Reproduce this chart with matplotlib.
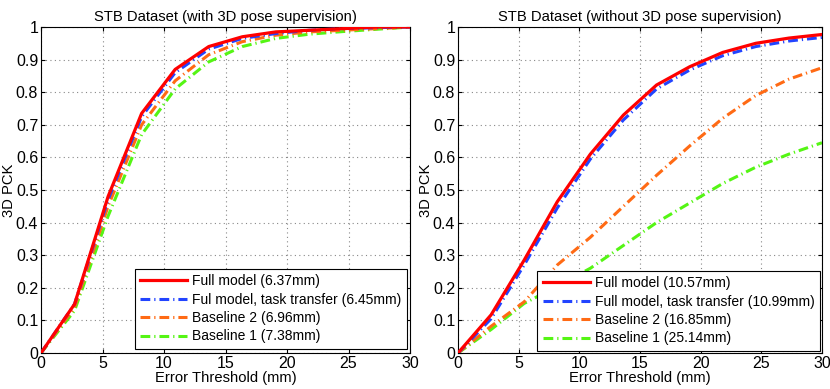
import numpy as np
import matplotlib
matplotlib.use("Agg")
import matplotlib.pyplot as plt

plt.rcParams['font.family'] = ['Liberation Sans', 'DejaVu Sans']

thresholds = np.linspace(0, 30, 12)

# Left: with 3D pose supervision
left_full = [0, 0.15, 0.48, 0.735, 0.87, 0.94, 0.97, 0.985, 0.99, 0.995, 1.0, 1.0]
left_transfer = [0, 0.15, 0.47, 0.725, 0.86, 0.932, 0.965, 0.98, 0.99, 0.995, 0.998, 1.0]
left_base2 = [0, 0.14, 0.45, 0.70, 0.835, 0.915, 0.955, 0.975, 0.985, 0.99, 0.995, 1.0]
left_base1 = [0, 0.13, 0.42, 0.67, 0.81, 0.893, 0.94, 0.965, 0.978, 0.986, 0.993, 1.0]
left_labels = ["Full model (6.37mm)", "Ful model, task transfer (6.45mm)",
               "Baseline 2 (6.96mm)", "Baseline 1 (7.38mm)"]

# Right: without 3D pose supervision
right_full = [0, 0.117, 0.285, 0.464, 0.61, 0.73, 0.822, 0.878, 0.922, 0.95, 0.966, 0.977]
right_transfer = [0, 0.105, 0.27, 0.445, 0.595, 0.715, 0.81, 0.868, 0.912, 0.94, 0.957, 0.968]
right_base2 = [0, 0.082, 0.157, 0.27, 0.355, 0.45, 0.545, 0.635, 0.72, 0.79, 0.84, 0.875]
right_base1 = [0, 0.072, 0.152, 0.205, 0.26, 0.33, 0.40, 0.46, 0.52, 0.57, 0.61, 0.645]
right_labels = ["Full model (10.57mm)", "Full model, task transfer (10.99mm)",
                "Baseline 2 (16.85mm)", "Baseline 1 (25.14mm)"]

titles = ["STB Dataset (with 3D pose supervision)", "STB Dataset (without 3D pose supervision)"]
colors = ["#ff0000", "#2244ff", "#ff6a14", "#55f514"]

fig = plt.figure(figsize=(8.3, 3.89), dpi=100)
ax1 = fig.add_axes([41/830, 1-353/389, 369/830, 326/389])
ax2 = fig.add_axes([458/830, 1-353/389, 364/830, 326/389])

def draw(ax, series, labels, title, legend_bbox):
    for i, (y, lab) in enumerate(zip(series, labels)):
        if i == 0:
            ax.plot(thresholds, y, color=colors[i], lw=2.3, label=lab, zorder=5)
        else:
            l, = ax.plot(thresholds, y, color=colors[i], lw=2.2, label=lab, zorder=4 - i)
            l.set_dashes((3.2, 1.3, 0.4, 1.3))
    ax.set_xlim(0, 30)
    ax.set_ylim(0, 1)
    ax.set_xticks([0, 5, 10, 15, 20, 25, 30])
    ax.set_yticks(np.arange(0, 1.01, 0.1))
    ax.set_yticklabels(["0", "0.1", "0.2", "0.3", "0.4", "0.5", "0.6", "0.7", "0.8", "0.9", "1"])
    ax.tick_params(direction='in', top=True, right=True, labelsize=11.5, length=3, pad=2)
    ax.grid(True, linestyle=(0, (1, 3)), color='#888888', linewidth=0.8)
    ax.set_axisbelow(True)
    ax.set_title(title, fontsize=10.6, pad=4)
    ax.set_xlabel("Error Threshold (mm)", fontsize=10.6, labelpad=0)
    ax.set_ylabel("3D PCK", fontsize=10.6, labelpad=0)
    for s in ax.spines.values():
        s.set_linewidth(0.8)
    leg = ax.legend(loc='lower right', bbox_to_anchor=legend_bbox, fontsize=10,
                    frameon=True, fancybox=False, edgecolor='black', framealpha=1,
                    borderaxespad=0, handlelength=3.4, handletextpad=0.35,
                    labelspacing=0.32, borderpad=0.4)
    leg.get_frame().set_linewidth(0.8)

draw(ax1, [left_full, left_transfer, left_base2, left_base1], left_labels, titles[0],
     (366/369, 4/326))
draw(ax2, [right_full, right_transfer, right_base2, right_base1], right_labels, titles[1],
     (362/364, 2/326))

fig.savefig("out.png", dpi=100)
